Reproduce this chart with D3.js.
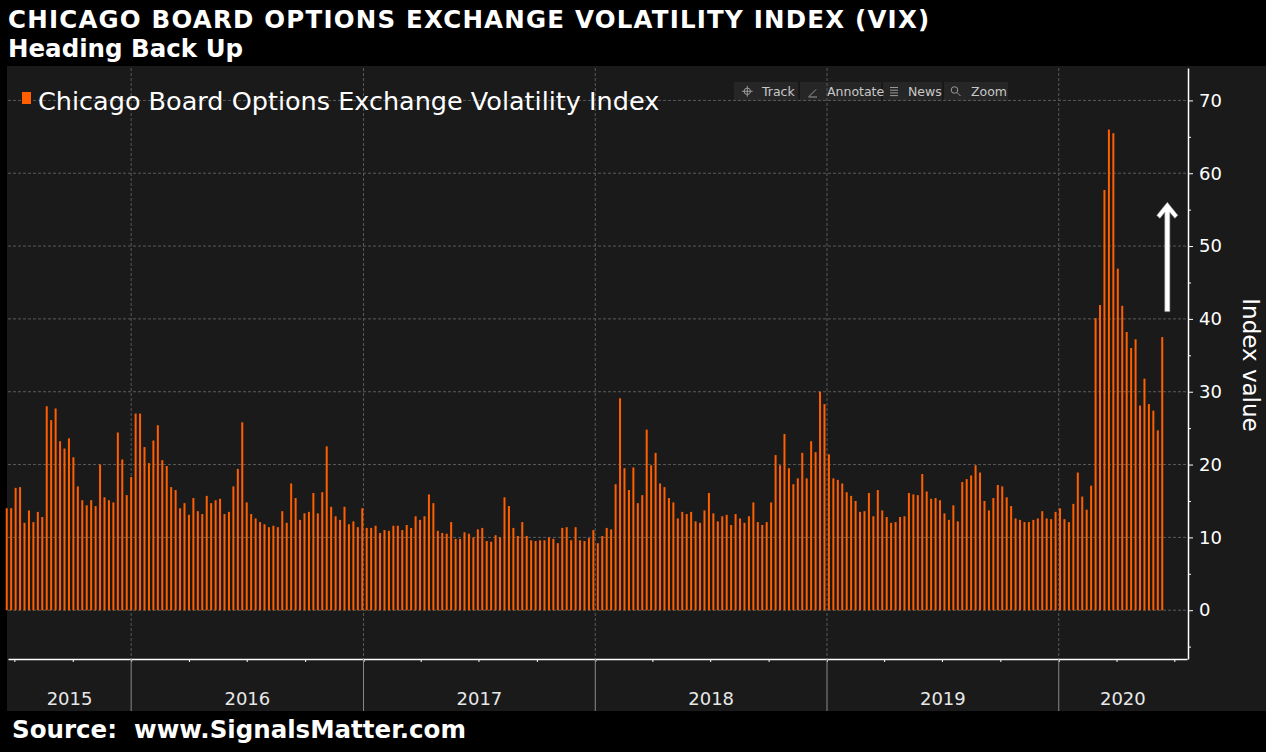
<!DOCTYPE html>
<html>
<head>
<meta charset="utf-8">
<script src="https://cdn.jsdelivr.net/npm/d3@7"></script>
<style>
    html, body { margin: 0; padding: 0; background: #000; }
    svg { display: block; font-family: "DejaVu Sans", sans-serif; }
</style>
</head>
<body>
<svg id="vixChart"></svg>
<script>
// Weekly closes (one bar per week, first bar = week of 2015-06-19)
const vix2015 = [14.0, 14.0, 16.8, 16.9, 12.0, 13.7, 12.1, 13.5, 12.8, 28.0, 26.1, 27.7, 23.2, 22.2, 23.6, 21.0, 17.0, 15.1, 14.4, 15.1,
    14.3, 20.0, 15.5, 15.1, 14.8, 24.4, 20.7, 15.8];
const vix2016 = [18.3, 27.0, 27.0, 22.4, 20.2, 23.3, 25.4, 20.6, 19.8, 16.9, 16.5, 14.0, 14.7, 13.1, 15.4, 13.6, 13.2, 15.7, 14.7, 15.1,
    15.3, 13.2, 13.5, 17.0, 19.4, 25.8, 14.8, 13.2, 12.6, 12.1, 11.8, 11.4, 11.6, 11.4, 13.6, 12.0, 17.4, 15.4, 12.4, 13.3,
    13.5, 16.1, 13.3, 16.2, 22.5, 14.2, 12.9, 12.4, 14.2, 11.8, 12.2, 11.4, 14.0];
const vix2017 = [11.3, 11.3, 11.6, 10.6, 11.0, 10.9, 11.6, 11.6, 11.0, 11.7, 11.3, 12.9, 12.4, 12.9, 15.9, 14.7, 10.9, 10.6, 10.5, 12.1,
    9.8, 9.8, 10.7, 10.5, 10.0, 11.1, 11.3, 9.5, 9.4, 10.3, 10.0, 15.5, 14.3, 11.3, 10.2, 12.1, 10.2, 9.6, 9.5, 9.6,
    9.6, 10.0, 9.8, 9.2, 11.3, 11.4, 9.6, 11.4, 9.6, 9.5, 9.9, 11.0];
const vix2018 = [9.2, 10.2, 11.3, 11.1, 17.3, 29.1, 19.5, 16.5, 19.6, 14.7, 15.8, 24.8, 19.9, 21.6, 17.4, 16.9, 15.4, 14.8, 12.6, 13.5,
    13.2, 13.5, 12.2, 12.0, 13.7, 16.1, 13.3, 12.2, 12.9, 13.1, 11.7, 13.2, 12.6, 12.0, 12.9, 14.8, 12.1, 11.7, 12.1, 14.8,
    21.3, 19.9, 24.2, 19.5, 17.3, 18.1, 21.6, 18.1, 23.2, 21.7, 30.0, 28.3];
const vix2019 = [21.4, 18.1, 17.9, 17.4, 16.2, 15.7, 15.0, 13.5, 13.6, 16.1, 12.9, 16.5, 13.7, 12.8, 12.0, 12.1, 12.8, 12.9, 16.1, 15.9,
    15.8, 18.7, 16.3, 15.3, 15.4, 15.1, 13.3, 12.4, 14.4, 12.2, 17.6, 18.0, 18.5, 19.9, 18.9, 15.0, 13.7, 15.4, 17.2, 17.0,
    15.5, 14.3, 12.6, 12.4, 12.1, 12.1, 12.4, 12.6, 13.6, 12.6, 12.5, 13.5];
const vix2020 = [14.0, 12.5, 12.1, 14.6, 18.9, 15.6, 13.8, 17.1, 40.1, 41.9, 57.7, 66.0, 65.5, 46.9, 41.8, 38.2, 36.0, 37.2, 28.1, 31.8,
    28.3, 27.4, 24.7, 37.5];

const firstWeek = "2015-06-19";
const yearLabels = ["2015", "2016", "2017", "2018", "2019", "2020"];
const yTickValues = [0, 10, 20, 30, 40, 50, 60, 70];
const yMinorTicks = [-5, 5, 15, 25, 35, 45, 55, 65];

const width = 1266;
const height = 752;
const margin = { top: 68, right: 1188, bottom: 659, left: 8 };
const barColor = '#ff5f00';
const gridColor = '#5a5a5a';

const parseDate = d3.timeParse('%Y-%m-%d');
const start = parseDate(firstWeek);
const values = [].concat(vix2015, vix2016, vix2017, vix2018, vix2019, vix2020);
const data = values.map((v, i) => ({ date: d3.timeWeek.offset(start, i), value: v }));

const svg = d3.select('svg#vixChart')
    .attr('width', width)
    .attr('height', height);

// Chart panel
svg.append('rect')
    .attr('x', 7).attr('y', 66)
    .attr('width', width - 7).attr('height', 711 - 66)
    .attr('fill', '#1a1a1a');

// Scales
const xDomain = [parseDate('2015-06-21'), parseDate('2020-07-21')];
const x = d3.scaleTime()
    .domain(xDomain)
    .range([margin.left, margin.right - 1]);

const y = d3.scaleLinear()
    .domain([-6.7, 74.45])
    .range([margin.bottom, margin.top]);

// Toolbar (drawn under the grid, like the original)
const toolbar = svg.append('g').attr('transform', 'translate(734,82)');
toolbar.append('rect')
    .attr('width', 274).attr('height', 19)
    .attr('fill', '#262626');
[65, 148, 209].forEach(sx => {
    toolbar.append('line')
        .attr('x1', sx).attr('x2', sx)
        .attr('y1', 0).attr('y2', 19)
        .attr('stroke', '#151515').attr('stroke-width', 1.5);
});
const tools = [
    { label: 'Track', tx: 28 },
    { label: 'Annotate', tx: 93 },
    { label: 'News', tx: 174 },
    { label: 'Zoom', tx: 237 }
];
toolbar.selectAll('.tool')
    .data(tools)
    .join('text')
    .classed('tool', true)
    .attr('x', d => d.tx)
    .attr('y', 13.5)
    .attr('fill', '#c8c8c8')
    .style('font-size', '12.5px')
    .text(d => d.label);
// icons
const icon = toolbar.append('g').attr('stroke', '#9a9a9a').attr('fill', 'none').attr('stroke-width', 1);
icon.append('circle').attr('cx', 13.3).attr('cy', 9.3).attr('r', 3.2);
icon.append('path').attr('d', 'M13.3,4V14.6M8,9.3H18.6');
icon.append('path').attr('d', 'M75,14.5L82,7.5M74.5,15H83');
icon.append('path').attr('d', 'M156,5.5H164M156,8.2H164M156,10.9H164M156,13.6H164');
icon.append('circle').attr('cx', 220.5).attr('cy', 8).attr('r', 3.3);
icon.append('path').attr('d', 'M223,10.5L226.5,14');

// Horizontal grid
svg.append('g')
    .selectAll('line')
    .data(yTickValues)
    .join('line')
    .attr('x1', margin.left).attr('x2', margin.right)
    .attr('y1', d => y(d)).attr('y2', d => y(d))
    .attr('stroke', gridColor)
    .attr('stroke-dasharray', '3,2');

// Vertical year grid
const yearStarts = d3.timeYear.range(d3.timeYear.ceil(xDomain[0]), xDomain[1]);
svg.append('g')
    .selectAll('line')
    .data(yearStarts)
    .join('line')
    .attr('x1', d => x(d)).attr('x2', d => x(d))
    .attr('y1', margin.top).attr('y2', margin.bottom)
    .attr('stroke', gridColor)
    .attr('stroke-dasharray', '3,2');

// Bars
svg.selectAll('.bar')
    .data(data)
    .join('rect')
    .classed('bar', true)
    .attr('x', d => x(d.date) - 1)
    .attr('y', d => y(d.value))
    .attr('width', 2)
    .attr('height', d => y(0) - y(d.value))
    .style('fill', barColor);

// X axis: quarter ticks
const xAxis = svg.append('g')
    .attr('transform', `translate(0,${margin.bottom})`)
    .call(d3.axisBottom(x).ticks(d3.timeMonth.every(3)).tickFormat('').tickSize(3).tickSizeOuter(0));
xAxis.select('.domain').attr('stroke', '#fff').attr('stroke-width', 1.5);
xAxis.selectAll('.tick line').attr('stroke', '#fff');

// Year separators and labels
svg.append('g')
    .selectAll('line')
    .data(yearStarts)
    .join('line')
    .attr('x1', d => x(d)).attr('x2', d => x(d))
    .attr('y1', margin.bottom).attr('y2', 711)
    .attr('stroke', '#8a8a8a');

svg.append('g')
    .selectAll('text')
    .data(yearLabels)
    .join('text')
    .attr('x', d => {
        const a = d3.max([xDomain[0], parseDate(d + '-01-01')]);
        const b = d3.min([xDomain[1], parseDate((+d + 1) + '-01-01')]);
        return (x(a) + x(b)) / 2;
    })
    .attr('y', 705)
    .attr('text-anchor', 'middle')
    .attr('fill', '#e8e8e8')
    .style('font-size', '18px')
    .text(d => d);

// Y axis on the right
const yAxis = svg.append('g')
    .attr('transform', `translate(${margin.right},0)`)
    .call(d3.axisRight(y).tickValues(yTickValues).tickSize(5).tickPadding(6).tickSizeOuter(0));
yAxis.select('.domain').attr('stroke', '#fff').attr('stroke-width', 1.5);
yAxis.selectAll('.tick line').attr('stroke', '#fff');
yAxis.selectAll('.tick text')
    .attr('fill', '#fff')
    .style('font-size', '18px')
    .style('font-family', '"DejaVu Sans", sans-serif');

svg.append('g')
    .attr('transform', `translate(${margin.right},0)`)
    .call(d3.axisRight(y).tickValues(yMinorTicks).tickSize(3).tickFormat('').tickSizeOuter(0))
    .call(g => g.select('.domain').remove())
    .selectAll('.tick line').attr('stroke', '#fff');

svg.append('text')
    .attr('transform', 'translate(1243,365) rotate(90)')
    .attr('text-anchor', 'middle')
    .attr('fill', '#fff')
    .style('font-size', '23px')
    .text('Index value');

// Legend
svg.append('rect')
    .attr('x', 22).attr('y', 92)
    .attr('width', 9).attr('height', 12)
    .attr('fill', barColor);
svg.append('text')
    .attr('x', 38).attr('y', 110)
    .attr('fill', '#fff')
    .style('font-size', '25.5px')
    .text('Chicago Board Options Exchange Volatility Index');

// Annotation arrow
const ax = x(parseDate('2020-06-20'));
const aTop = y(56);
const aBottom = y(41);
svg.append('path')
    .attr('d', `M${ax},${aTop} L${ax + 10.5},${aTop + 13} L${ax + 7.5},${aTop + 16} L${ax + 2.5},${aTop + 10}
        L${ax + 2.5},${aBottom} L${ax - 2.5},${aBottom} L${ax - 2.5},${aTop + 10}
        L${ax - 7.5},${aTop + 16} L${ax - 10.5},${aTop + 13} Z`)
    .attr('fill', '#fff')
    .attr('stroke', '#9a9a9a')
    .attr('stroke-width', 0.6);

// Titles and source
svg.append('text')
    .attr('x', 8).attr('y', 28)
    .attr('fill', '#fff')
    .style('font-size', '24.5px').style('font-weight', 'bold')
    .style('letter-spacing', '1.2px')
    .text('CHICAGO BOARD OPTIONS EXCHANGE VOLATILITY INDEX (VIX)');
svg.append('text')
    .attr('x', 8).attr('y', 57)
    .attr('fill', '#fff')
    .style('font-size', '24.5px').style('font-weight', 'bold')
    .text('Heading Back Up');
svg.append('text')
    .attr('x', 12).attr('y', 738)
    .attr('fill', '#fff')
    .style('font-size', '24.5px').style('font-weight', 'bold')
    .attr('xml:space', 'preserve')
    .text('Source:  www.SignalsMatter.com');
</script>
</body>
</html>
